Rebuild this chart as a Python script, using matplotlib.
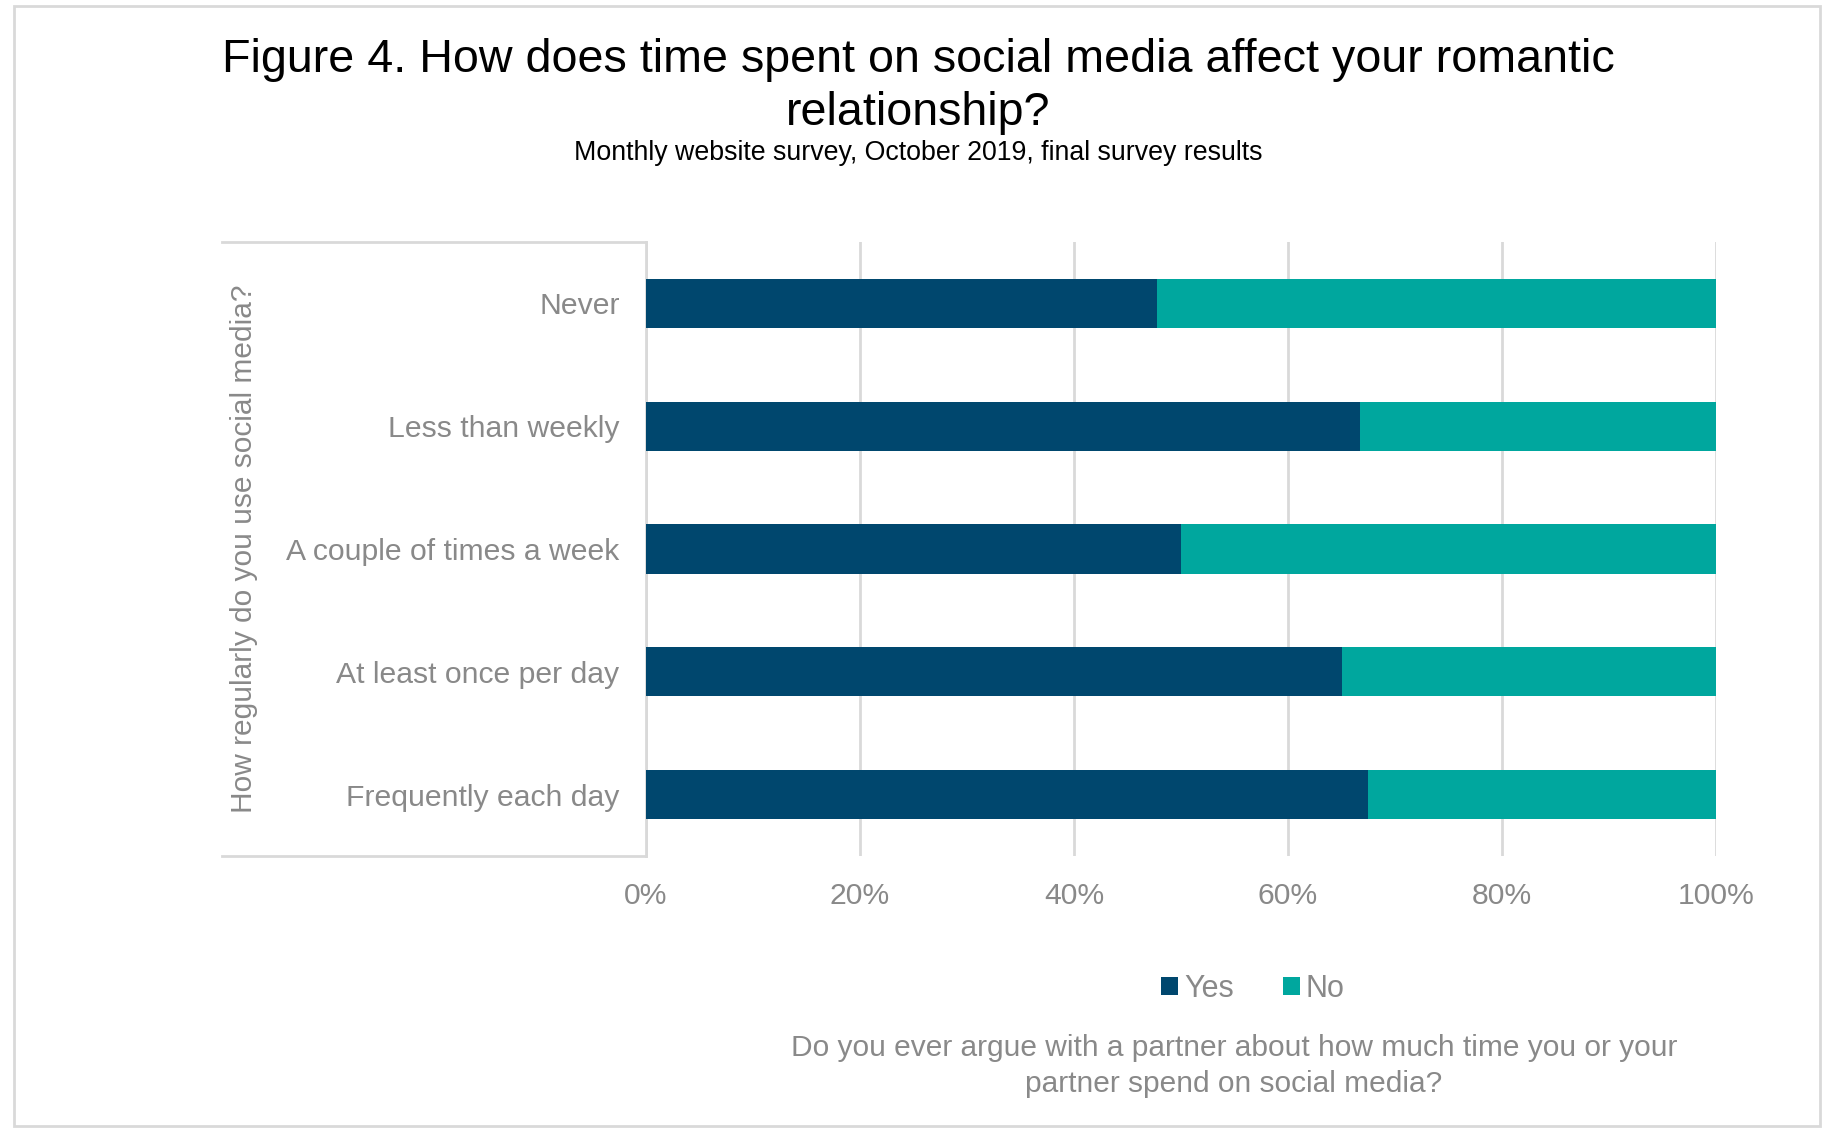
import matplotlib
matplotlib.use("Agg")
import matplotlib.pyplot as plt
from matplotlib.patches import Rectangle
from matplotlib.lines import Line2D
from matplotlib.ticker import PercentFormatter

plt.rcParams['font.family'] = ['Liberation Sans', 'DejaVu Sans']

categories = ["Never", "Less than weekly", "A couple of times a week",
              "At least once per day", "Frequently each day"]
yes_vals = [47.8, 66.7, 50.0, 65.0, 67.5]
no_vals = [52.2, 33.3, 50.0, 35.0, 32.5]
xticks = [0, 20, 40, 60, 80, 100]

YES_C = "#00476E"
NO_C = "#00A79E"
GRAY_TXT = "#898989"
GRID_C = "#D9D9D9"

W, H = 1832, 1138
fig = plt.figure(figsize=(W / 100, H / 100), dpi=100)

def fx(px):
    return px / W

def fy(py):
    return 1 - py / H

# outer border
fig.add_artist(Rectangle((fx(14), fy(1126)), fx(1820) - fx(14), fy(6) - fy(1126),
                         transform=fig.transFigure, fill=False,
                         edgecolor="#D9D9D9", linewidth=2))

L, R, T, B = 646, 1716, 242, 856
ax = fig.add_axes([fx(L), fy(B), fx(R) - fx(L), fy(T) - fy(B)])

ypos = list(range(len(categories)))
ax.barh(ypos, yes_vals, height=0.4, color=YES_C, label="Yes", zorder=3)
ax.barh(ypos, no_vals, left=yes_vals, height=0.4, color=NO_C, label="No", zorder=3)

ax.set_xlim(0, 100)
ax.set_ylim(len(categories) - 0.5, -0.5)
ax.set_yticks(ypos)
ax.set_yticklabels(categories, fontsize=21.7, color=GRAY_TXT)
ax.set_xticks(xticks)
ax.xaxis.set_major_formatter(PercentFormatter(decimals=0))
ax.tick_params(axis='x', length=0, pad=19, labelsize=21.7, labelcolor=GRAY_TXT)
ax.tick_params(axis='y', length=0, pad=19)
ax.grid(axis='x', color=GRID_C, linewidth=2, zorder=0)
for s in ["top", "right", "bottom"]:
    ax.spines[s].set_visible(False)
ax.spines["left"].set_color(GRID_C)
ax.spines["left"].set_linewidth(2)

# category-axis box lines
for yy in (T, B):
    fig.add_artist(Line2D([fx(222), fx(L)], [fy(yy), fy(yy)],
                          transform=fig.transFigure, color=GRID_C, linewidth=2))

fig.text(fx(244), fy(549), "How regularly do you use social media?", rotation=90,
         ha='center', va='center', fontsize=21.5, color=GRAY_TXT)

fig.text(fx(918), fy(60), "Figure 4. How does time spent on social media affect your romantic",
         ha='center', va='center', fontsize=33.6, color="black")
fig.text(fx(918), fy(113), "relationship?",
         ha='center', va='center', fontsize=33.6, color="black")
fig.text(fx(918), fy(153), "Monthly website survey, October 2019, final survey results",
         ha='center', va='center', fontsize=19.3, color="black")

leg = fig.legend(loc='center', bbox_to_anchor=(fx(1253), fy(989)), ncol=2, frameon=False,
                 fontsize=22, handlelength=0.55, handleheight=0.55, handletextpad=0.2,
                 columnspacing=1.6)
for t in leg.get_texts():
    t.set_color(GRAY_TXT)

fig.text(fx(1234), fy(1066),
         "Do you ever argue with a partner about how much time you or your\npartner spend on social media?",
         ha='center', va='center', fontsize=21.5, color=GRAY_TXT, linespacing=1.32)

fig.savefig("out.png", dpi=100)
